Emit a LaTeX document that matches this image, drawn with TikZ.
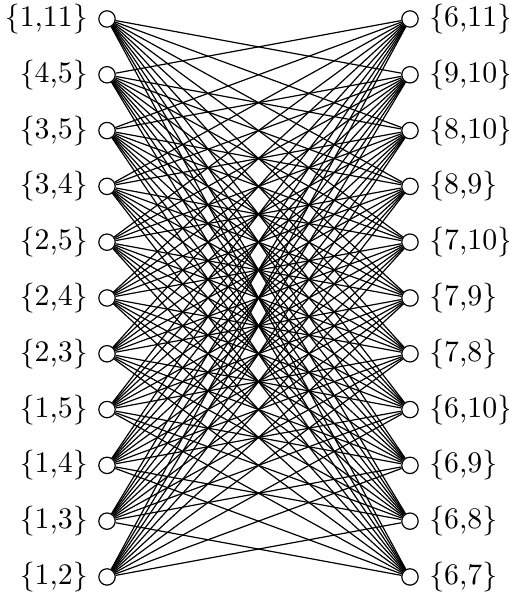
\documentclass[tikz,border=0pt]{standalone}
\tikzset{vtx/.style={circle,draw,inner sep=0pt,minimum size=5.5pt}}
\begin{document}
\begin{tikzpicture}
\useasboundingbox (0,0) rectangle (6.002,7.123);
% left and right vertices
\foreach \l [count=\i] in {{1,11},{4,5},{3,5},{3,4},{2,5},{2,4},{2,3},{1,5},{1,4},{1,3},{1,2}}
  \node[vtx,label={left:\{\l\}}] (L\i) at (1.262,{6.899-0.658*(\i-1)}) {};
\foreach \r [count=\i] in {{6,11},{9,10},{8,10},{8,9},{7,10},{7,9},{7,8},{6,10},{6,9},{6,8},{6,7}}
  \node[vtx,label={right:\{\r\}}] (R\i) at (4.835,{6.899-0.658*(\i-1)}) {};
% all edges except the matching
\foreach \i in {1,...,11}
  \foreach \j in {1,...,11}
    {\ifnum\i=\j\else \draw (L\i) -- (R\j);\fi}
\end{tikzpicture}
\end{document}
